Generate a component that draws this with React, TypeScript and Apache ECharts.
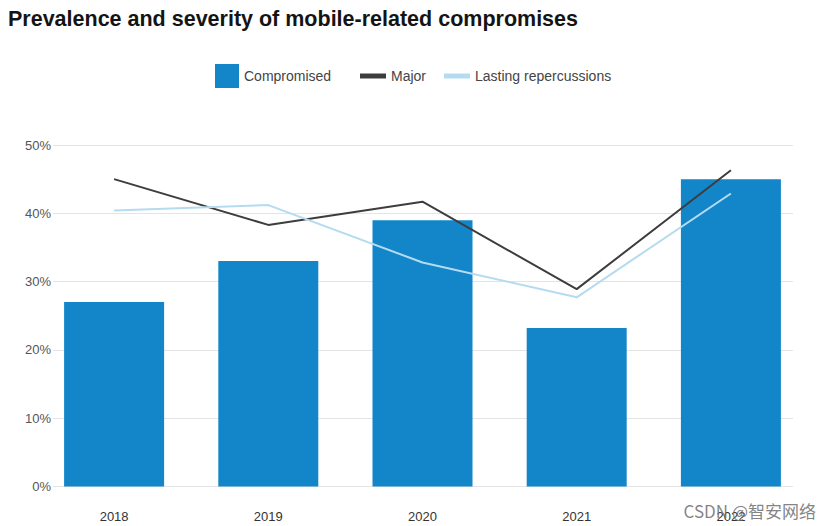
import React, { useEffect, useRef } from "react";
import * as echarts from "echarts";

const years = ["2018", "2019", "2020", "2021", "2022"];
const compromised = [27, 33, 39, 23.2, 45];
const major = [45, 38.3, 41.7, 28.9, 46.3];
const lasting = [40.4, 41.2, 32.8, 27.7, 42.9];
const yTicks = { min: 0, max: 50, interval: 10 };

const FONT = "Liberation Sans, Arial, sans-serif";

export default function App() {
  const ref = useRef<HTMLDivElement>(null);
  useEffect(() => {
    if (!ref.current) return;
    const chart = echarts.init(ref.current, undefined, { renderer: "svg" });
    chart.setOption({
      animation: false,
      backgroundColor: "#ffffff",
      textStyle: { fontFamily: FONT },
      title: {
        text: "Prevalence and severity of mobile-related compromises",
        left: 3,
        top: 3,
        textStyle: { fontSize: 21.5, fontWeight: "bold", color: "#141414", fontFamily: FONT },
      },
      legend: [
        {
          data: ["Compromised"],
          left: 210,
          top: 59,
          itemWidth: 24,
          itemHeight: 24,
          icon: "rect",
          itemGap: 8,
          textStyle: { fontSize: 14, color: "#444" },
        },
        {
          data: ["Major"],
          left: 355,
          top: 64,
          itemWidth: 26,
          itemHeight: 5,
          icon: "rect",
          textStyle: { fontSize: 14, color: "#444" },
        },
        {
          data: ["Lasting repercussions"],
          left: 439,
          top: 64,
          itemWidth: 26,
          itemHeight: 5,
          icon: "rect",
          textStyle: { fontSize: 14, color: "#444" },
        },
      ],
      grid: [
        { left: 53, right: 37, top: 145, bottom: 39.5 },
        { left: 37, right: 22, top: 145, bottom: 39.5 },
      ],
      xAxis: [
        { type: "category", gridIndex: 0, data: years, show: false },
        {
          type: "category",
          gridIndex: 1,
          data: years,
          axisLine: { show: false },
          axisTick: { show: false },
          axisLabel: { fontSize: 13, color: "#333", margin: 23 },
        },
      ],
      yAxis: [
        {
          type: "value",
          gridIndex: 0,
          min: yTicks.min,
          max: yTicks.max,
          interval: yTicks.interval,
          axisLine: { show: false },
          axisTick: { show: false },
          axisLabel: { formatter: "{value}%", fontSize: 13, color: "#555", margin: 2 },
          splitLine: { lineStyle: { color: "#e4e4e4", width: 1 } },
        },
        {
          type: "value",
          gridIndex: 1,
          min: yTicks.min,
          max: yTicks.max,
          interval: yTicks.interval,
          show: false,
          splitLine: { show: false },
        },
      ],
      series: [
        {
          name: "Compromised",
          type: "bar",
          xAxisIndex: 1,
          yAxisIndex: 1,
          data: compromised,
          barWidth: 100,
          itemStyle: { color: "#1286c8" },
        },
        {
          name: "Major",
          type: "line",
          xAxisIndex: 1,
          yAxisIndex: 1,
          data: major,
          symbol: "none",
          lineStyle: { color: "#3d3d3d", width: 2 },
          itemStyle: { color: "#3d3d3d" },
        },
        {
          name: "Lasting repercussions",
          type: "line",
          xAxisIndex: 1,
          yAxisIndex: 1,
          data: lasting,
          symbol: "none",
          lineStyle: { color: "#b5dbf0", width: 2 },
          itemStyle: { color: "#b5dbf0" },
        },
      ],
      graphic: [
        {
          type: "text",
          right: 14,
          bottom: 7,
          style: {
            text: "CSDN @智安网络",
            fontSize: 17,
            fill: "rgba(110,110,110,0.85)",
            fontFamily: "Noto Sans CJK SC, sans-serif",
          },
          z: 100,
        },
      ],
    });
    return () => chart.dispose();
  }, []);
  return <div ref={ref} style={{ width: 830, height: 526, position: "absolute", left: 0, top: 0 }} />;
}
